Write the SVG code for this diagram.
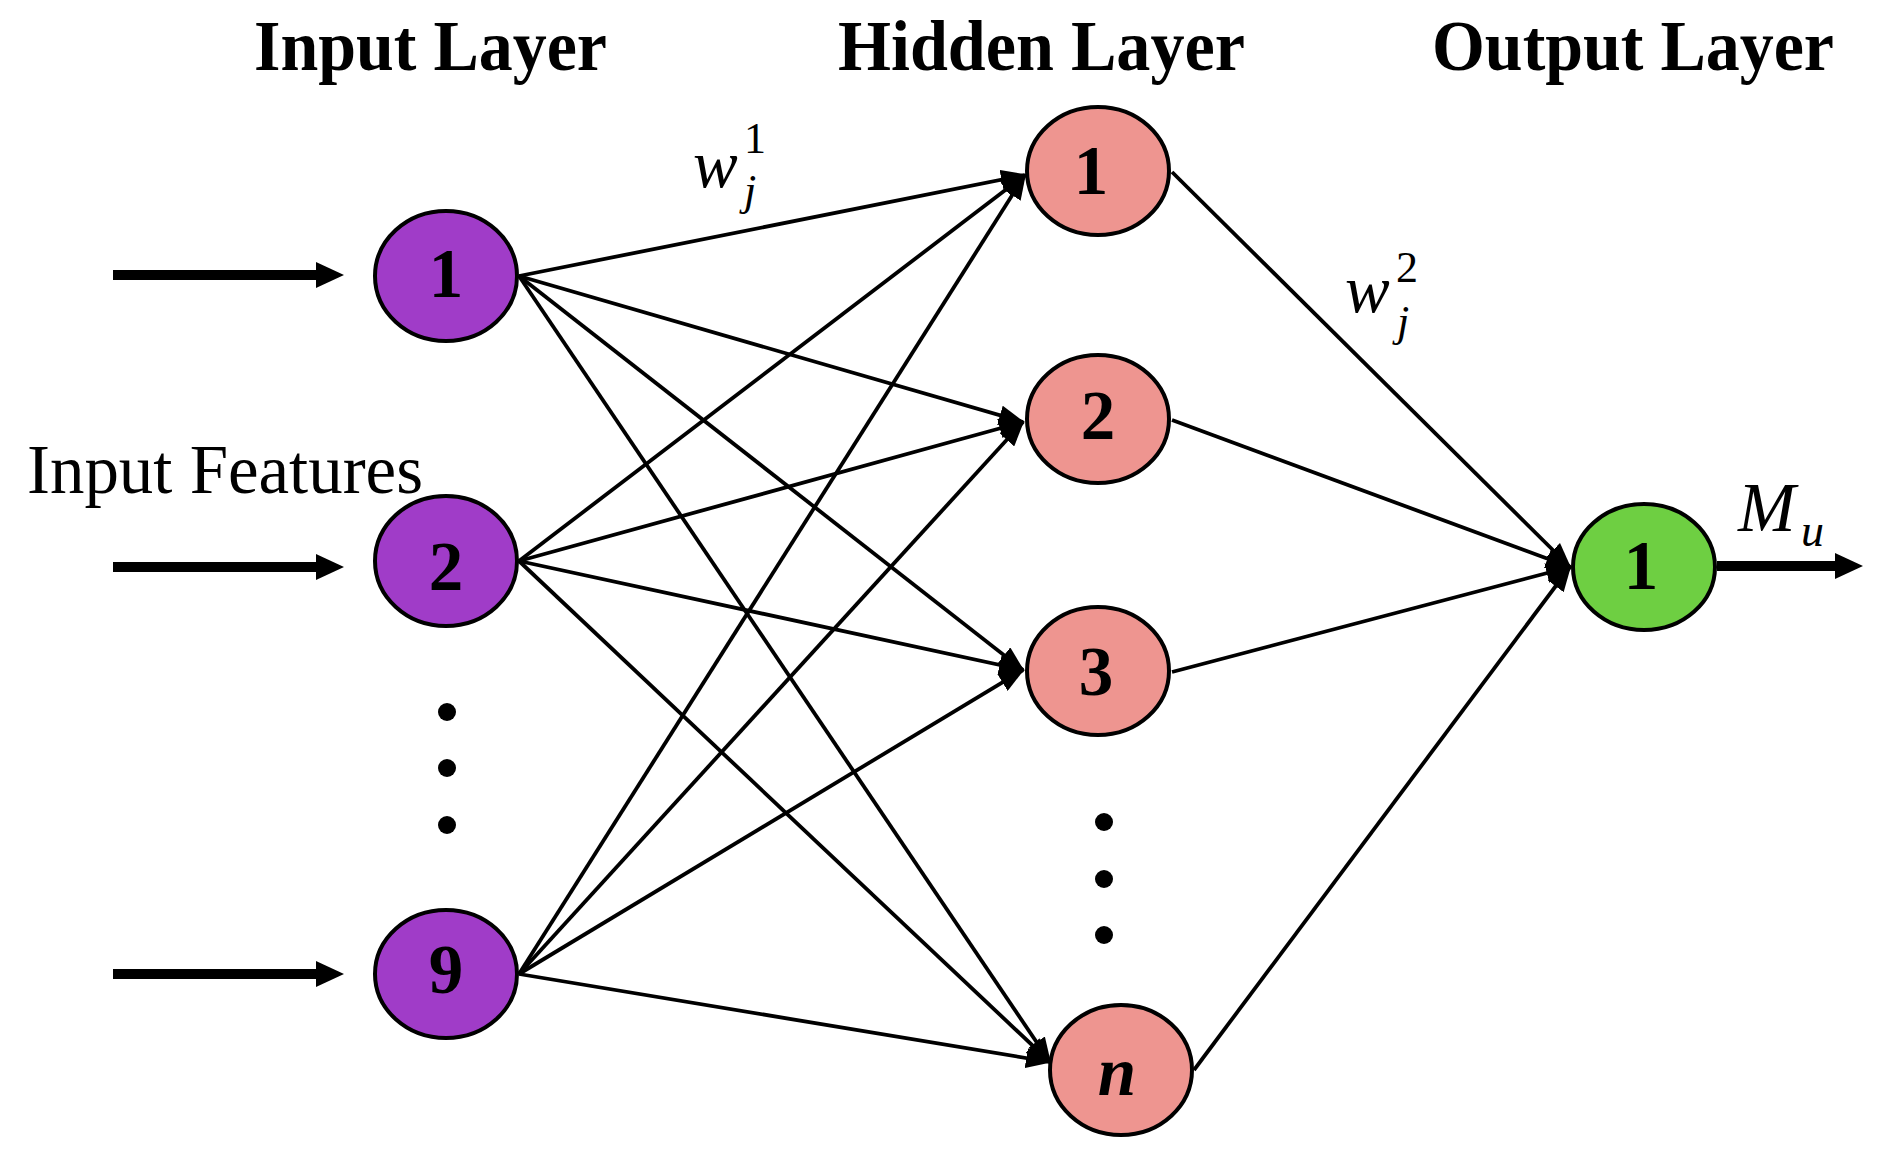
<svg xmlns="http://www.w3.org/2000/svg" width="1889" height="1164" viewBox="0 0 1889 1164">
<style>
.hdr{font-family:"Liberation Serif","Times New Roman",serif;font-weight:bold;font-size:71px;fill:#000}
.lbl{font-family:"Liberation Serif","Times New Roman",serif;font-weight:bold;font-size:69px;fill:#000;text-anchor:middle}
.it{font-family:"Liberation Serif","Times New Roman",serif;font-style:italic;fill:#000}
.rm{font-family:"Liberation Serif","Times New Roman",serif;fill:#000}
.edge{stroke:#000;stroke-width:3.8;fill:none}
.big{stroke:#000;stroke-width:10;fill:none}
.node{stroke:#000;stroke-width:4}
.in{fill:#A03CC8}
.hid{fill:#EE9590}
.out{fill:#6ECF42}
</style>
<defs>
<marker id="ah" markerUnits="userSpaceOnUse" markerWidth="26" markerHeight="20" viewBox="0 0 26 20" refX="24" refY="10" orient="auto">
<path d="M0,0 L26,10 L0,20 z" fill="#000"/>
</marker>
<marker id="bh" markerUnits="userSpaceOnUse" markerWidth="28" markerHeight="26" viewBox="0 0 28 26" refX="2" refY="13" orient="auto">
<path d="M0,0 L28,13 L0,26 z" fill="#000"/>
</marker>
</defs>
<rect width="1889" height="1164" fill="#fff"/>
<g id="headers">
<text class="hdr" x="254" y="70" textLength="353" lengthAdjust="spacingAndGlyphs">Input Layer</text>
<text class="hdr" x="838" y="70" textLength="407" lengthAdjust="spacingAndGlyphs">Hidden Layer</text>
<text class="hdr" x="1432" y="70" textLength="402" lengthAdjust="spacingAndGlyphs">Output Layer</text>
</g>
<g id="connectors">
<line class="big" x1="113" y1="275" x2="318" y2="275" marker-end="url(#bh)"/>
<line class="big" x1="113" y1="567" x2="318" y2="567" marker-end="url(#bh)"/>
<line class="big" x1="113" y1="974" x2="318" y2="974" marker-end="url(#bh)"/>
<line class="big" x1="1717" y1="566" x2="1837" y2="566" marker-end="url(#bh)"/>
<line class="edge" x1="519" y1="276" x2="1025" y2="175" marker-end="url(#ah)"/>
<line class="edge" x1="519" y1="276" x2="1023" y2="422" marker-end="url(#ah)"/>
<line class="edge" x1="519" y1="276" x2="1023" y2="670" marker-end="url(#ah)"/>
<line class="edge" x1="519" y1="276" x2="1050" y2="1062" marker-end="url(#ah)"/>
<line class="edge" x1="519" y1="561" x2="1025" y2="175" marker-end="url(#ah)"/>
<line class="edge" x1="519" y1="561" x2="1023" y2="422" marker-end="url(#ah)"/>
<line class="edge" x1="519" y1="561" x2="1023" y2="670" marker-end="url(#ah)"/>
<line class="edge" x1="519" y1="561" x2="1050" y2="1062" marker-end="url(#ah)"/>
<line class="edge" x1="519" y1="974" x2="1025" y2="175" marker-end="url(#ah)"/>
<line class="edge" x1="519" y1="974" x2="1023" y2="422" marker-end="url(#ah)"/>
<line class="edge" x1="519" y1="974" x2="1023" y2="670" marker-end="url(#ah)"/>
<line class="edge" x1="519" y1="974" x2="1050" y2="1062" marker-end="url(#ah)"/>
<line class="edge" x1="1172" y1="172" x2="1570" y2="567" marker-end="url(#ah)"/>
<line class="edge" x1="1172" y1="420" x2="1570" y2="567" marker-end="url(#ah)"/>
<line class="edge" x1="1172" y1="672" x2="1570" y2="567" marker-end="url(#ah)"/>
<line class="edge" x1="1194" y1="1070" x2="1570" y2="567" marker-end="url(#ah)"/>
</g>
<g id="in1"><ellipse class="node in" cx="446" cy="276" rx="71" ry="65"/><text class="lbl" x="446" y="297">1</text></g>
<g id="in2"><ellipse class="node in" cx="446" cy="561" rx="71" ry="65"/><text class="lbl" x="446" y="590">2</text></g>
<g id="in9"><ellipse class="node in" cx="446" cy="974" rx="71" ry="64"/><text class="lbl" x="446" y="993">9</text></g>
<g id="in-dots"><circle cx="447" cy="712" r="9"/><circle cx="447" cy="768" r="9"/><circle cx="447" cy="825" r="9"/></g>
<g id="h1"><ellipse class="node hid" cx="1098" cy="171" rx="71" ry="64"/><text class="lbl" x="1091" y="194">1</text></g>
<g id="h2"><ellipse class="node hid" cx="1098" cy="419" rx="71" ry="64"/><text class="lbl" x="1098" y="439">2</text></g>
<g id="h3"><ellipse class="node hid" cx="1098" cy="671" rx="71" ry="64"/><text class="lbl" x="1096" y="695">3</text></g>
<g id="hid-dots"><circle cx="1104" cy="822" r="9"/><circle cx="1104" cy="879" r="9"/><circle cx="1104" cy="935" r="9"/></g>
<g id="hn"><ellipse class="node hid" cx="1121" cy="1070" rx="71" ry="65"/><text class="lbl" x="1117" y="1095" font-style="italic">n</text></g>
<g id="o1"><ellipse class="node out" cx="1644" cy="567" rx="71" ry="63"/><text class="lbl" x="1641" y="589">1</text></g>
<g id="labels">
<text class="rm" x="27" y="493" font-size="70" textLength="396" lengthAdjust="spacingAndGlyphs">Input Features</text>
<text class="it" x="693" y="187" font-size="67">w</text>
<text class="rm" x="744" y="153" font-size="44">1</text>
<text class="it" x="744" y="205" font-size="44">j</text>
<text class="it" x="1345" y="312" font-size="67">w</text>
<text class="rm" x="1396" y="282" font-size="44">2</text>
<text class="it" x="1397" y="336" font-size="44">j</text>
<text class="it" x="1738" y="531" font-size="69">M</text>
<text class="it" x="1801" y="546" font-size="46">u</text>
</g>
</svg>
